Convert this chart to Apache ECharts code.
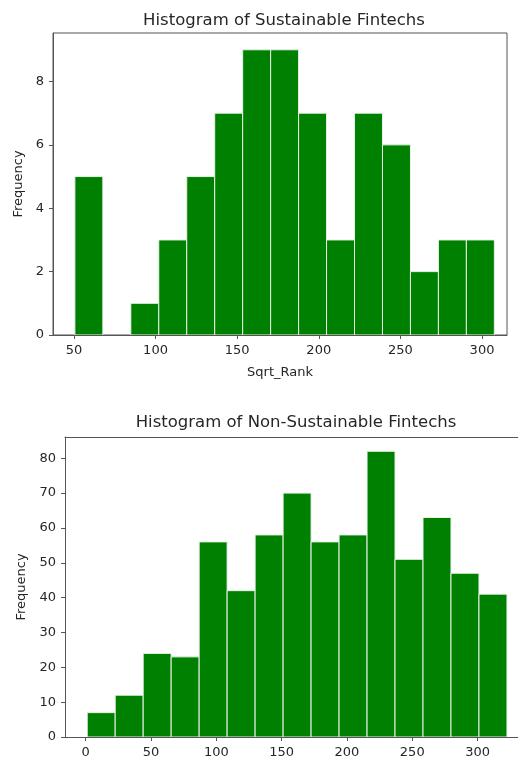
<!DOCTYPE html>
<html>
<head>
<meta charset="utf-8">
<script src="https://cdn.jsdelivr.net/npm/echarts@6/dist/echarts.min.js"></script>
<style>
  html, body { margin: 0; padding: 0; background: #fff; }
  #chart { width: 518px; height: 758px; }
</style>
</head>
<body>
<div id="chart"></div>
<script>
// top histogram: sustainable fintechs
const susBinStart = 50.6;
const susBinWidth = 17.13;
const susCounts = [5, 0, 1, 3, 5, 7, 9, 9, 7, 3, 7, 6, 2, 3, 3];
const susXTicks = [50, 100, 150, 200, 250, 300];
const susYTicks = [0, 2, 4, 6, 8];

// bottom histogram: non-sustainable fintechs
const nonBinStart = 1.2;
const nonBinWidth = 21.42;
const nonCounts = [7, 12, 24, 23, 56, 42, 58, 70, 56, 58, 82, 51, 63, 47, 41];
const nonXTicks = [0, 50, 100, 150, 200, 250, 300];
const nonYTicks = [0, 10, 20, 30, 40, 50, 60, 70, 80];

const FONT = '"DejaVu Sans", sans-serif';
const TEXT = '#262626';
const FRAME = '#555';
const BAR = '#008000';

const toBins = (start, width, counts) =>
  counts.map((c, i) => [start + i * width, start + (i + 1) * width, c]);

const renderBin = (params, api) => {
  if (api.value(2) <= 0) return;
  const p0 = api.coord([api.value(0), 0]);
  const p1 = api.coord([api.value(1), api.value(2)]);
  return {
    type: 'rect',
    shape: { x: p0[0], y: p1[1], width: p1[0] - p0[0], height: p0[1] - p1[1] },
    style: { fill: BAR, stroke: '#e8f2e8', lineWidth: 1 }
  };
};

const xAxisFor = (gridIndex, min, max, ticks, name) => ({
  type: 'value',
  gridIndex,
  min, max,
  name,
  nameLocation: 'middle',
  nameGap: 31,
  nameTextStyle: { fontFamily: FONT, fontSize: 13, color: TEXT },
  splitLine: { show: false },
  axisLine: { show: true, onZero: false, lineStyle: { color: FRAME, width: 1 } },
  axisTick: { show: true, length: 4, lineStyle: { color: FRAME }, customValues: ticks },
  axisLabel: { fontFamily: FONT, fontSize: 13, color: TEXT, margin: 9, customValues: ticks }
});

// top border line only, for the clipped lower chart
const topLineFor = (gridIndex, min, max) => ({
  type: 'value',
  gridIndex,
  position: 'top',
  min, max,
  splitLine: { show: false },
  axisLine: { show: true, onZero: false, lineStyle: { color: FRAME, width: 1 } },
  axisTick: { show: false },
  axisLabel: { show: false }
});

const yAxisFor = (gridIndex, max, ticks, gap) => ({
  type: 'value',
  gridIndex,
  min: 0, max,
  name: 'Frequency',
  nameLocation: 'middle',
  nameGap: gap,
  nameTextStyle: { fontFamily: FONT, fontSize: 13, color: TEXT },
  splitLine: { show: false },
  axisLine: { show: true, onZero: false, lineStyle: { color: FRAME, width: 1 } },
  axisTick: { show: true, length: 4, lineStyle: { color: FRAME }, customValues: ticks },
  axisLabel: { fontFamily: FONT, fontSize: 13, color: TEXT, margin: 9, customValues: ticks }
});

const chart = echarts.init(document.getElementById('chart'), null, { renderer: 'canvas' });

chart.setOption({
  animation: false,
  backgroundColor: '#fff',
  graphic: [
    { type: 'text', x: 284, y: 21, style: { text: 'Histogram of Sustainable Fintechs', font: '16.5px ' + FONT, fill: TEXT, textAlign: 'center', textVerticalAlign: 'middle' } },
    { type: 'text', x: 296, y: 423, style: { text: 'Histogram of Non-Sustainable Fintechs', font: '16.5px ' + FONT, fill: TEXT, textAlign: 'center', textVerticalAlign: 'middle' } }
  ],
  grid: [
    { left: 53, top: 33, width: 454, height: 302, show: true, borderColor: FRAME, borderWidth: 1, outerBoundsMode: 'none' },
    { left: 65, top: 437, width: 463, height: 300, show: false, outerBoundsMode: 'none' }
  ],
  xAxis: [
    xAxisFor(0, 37.2, 315.3, susXTicks, 'Sqrt_Rank'),
    xAxisFor(1, -15.8, 338.6, nonXTicks, ''),
    topLineFor(1, -15.8, 338.6)
  ],
  yAxis: [
    yAxisFor(0, 9.53, susYTicks, 26),
    yAxisFor(1, 86.1, nonYTicks, 33)
  ],
  series: [
    { type: 'custom', xAxisIndex: 0, yAxisIndex: 0, renderItem: renderBin, data: toBins(susBinStart, susBinWidth, susCounts), clip: true },
    { type: 'custom', xAxisIndex: 1, yAxisIndex: 1, renderItem: renderBin, data: toBins(nonBinStart, nonBinWidth, nonCounts), clip: true }
  ]
});
</script>
</body>
</html>
